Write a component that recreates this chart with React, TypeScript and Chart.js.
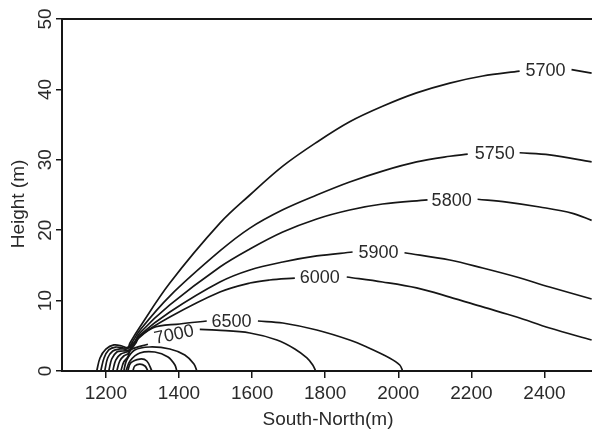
import React, { useEffect, useRef } from "react";
import { Chart, registerables } from "chart.js";

Chart.register(...registerables);

const FONT = "'Liberation Sans', Arial, Helvetica, sans-serif";
const LINE = "#161616";
const TEXT = "#2a2a2a";

// Axes
const xRange = [1080, 2530];
const yRange = [0, 50];
const xTicks = [1200, 1400, 1600, 1800, 2000, 2200, 2400];
const yTicks = [0, 10, 20, 30, 40, 50];
const xTitle = "South-North(m)";
const yTitle = "Height (m)";

// Contour lines (null = gap where the label sits)
const c5700x = [1175, 1184, 1200, 1222, 1244, 1260, 1266, 1293, 1375, 1512, 1594, 1684, 1777, 1867, 1957, 2050, 2141, 2231, 2332, 2403, 2474, 2529];
const c5700y = [0, 1.85, 3.1, 3.7, 3.55, 3.27, 3.98, 6.25, 12.5, 21.0, 25.0, 29.1, 32.5, 35.4, 37.6, 39.5, 40.9, 41.9, 42.6, null, 42.8, 42.3];

const c5750x = [1186, 1195, 1208, 1227, 1249, 1263, 1271, 1293, 1375, 1512, 1594, 1684, 1777, 1867, 1957, 2050, 2141, 2190, 2264, 2332, 2414, 2529];
const c5750y = [0, 1.85, 3.0, 3.4, 3.27, 3.4, 3.98, 5.8, 10.65, 17.05, 20.3, 22.9, 25.0, 26.85, 28.4, 29.7, 30.5, 30.8, null, 31.0, 30.7, 29.7];

const c5800x = [1197, 1205, 1219, 1238, 1257, 1268, 1277, 1293, 1375, 1512, 1594, 1684, 1777, 1867, 1957, 2080, 2146, 2217, 2297, 2387, 2477, 2529];
const c5800y = [0, 1.85, 2.84, 3.13, 3.13, 3.55, 3.98, 5.4, 9.38, 14.77, 17.33, 19.74, 21.6, 22.87, 23.72, 24.3, null, 24.4, 24.0, 23.3, 22.4, 21.4];

const c5900x = [1208, 1216, 1230, 1246, 1263, 1279, 1293, 1375, 1512, 1594, 1684, 1777, 1875, 1946, 2017, 2141, 2231, 2324, 2414, 2529];
const c5900y = [0, 1.7, 2.7, 2.84, 2.98, 3.98, 5.11, 8.38, 12.64, 14.35, 15.48, 16.34, 16.9, null, 16.8, 15.77, 14.63, 13.35, 11.93, 10.23];

const c6000x = [1219, 1227, 1241, 1257, 1268, 1282, 1293, 1375, 1512, 1594, 1648, 1717, 1785, 1859, 1957, 2050, 2141, 2231, 2324, 2414, 2529];
const c6000y = [0, 1.56, 2.41, 2.7, 3.0, 3.98, 4.97, 7.67, 11.22, 12.5, 12.93, 13.2, null, 13.35, 12.64, 11.8, 10.5, 9.1, 7.67, 6.1, 4.4];

const c6500x = [1230, 1238, 1249, 1263, 1271, 1328, 1402, 1476, 1544, 1616, 1684, 1777, 1867, 1914, 1976, 2004, 2012];
const c6500y = [0, 1.42, 2.13, 2.56, 3.69, 6.11, 6.68, 7.1, null, 7.1, 6.82, 5.82, 4.4, 3.4, 1.85, 0.85, 0];

const c7000x = [1241, 1249, 1260, 1268, 1315, 1386, 1457, 1503, 1594, 1668, 1717, 1750, 1766, 1774];
const c7000y = [0, 1.28, 2.0, 3.0, 3.8, null, 5.9, 5.8, 5.4, 4.4, 3.13, 1.85, 0.85, 0];

// Unlabelled inner arcs (higher levels)
const arcAx = [1249, 1257, 1279, 1320, 1375, 1416, 1441, 1449];
const arcAy = [0, 1.56, 2.98, 3.41, 3.13, 2.27, 1.0, 0];
const arcBx = [1255, 1266, 1293, 1334, 1370, 1389, 1394];
const arcBy = [0, 1.42, 2.56, 2.7, 1.99, 0.85, 0];
const arcDx = [1260, 1268, 1293, 1312, 1326];
const arcDy = [0, 1.14, 1.7, 1.42, 0];
const arcCx = [1274, 1279, 1293, 1307, 1315];
const arcCy = [0, 0.71, 0.99, 0.71, 0];

// Contour labels
const labelText = ["5700", "5750", "5800", "5900", "6000", "6500", "7000"];
const labelX = [2403, 2264, 2146, 1946, 1785, 1544, 1386];
const labelY = [42.8, 31.0, 24.35, 16.85, 13.3, 7.1, 5.25];
const labelAngle = [0, 0, 0, 0, 0, 0, -12];

const series: [number[], (number | null)[]][] = [
  [c5700x, c5700y],
  [c5750x, c5750y],
  [c5800x, c5800y],
  [c5900x, c5900y],
  [c6000x, c6000y],
  [c6500x, c6500y],
  [c7000x, c7000y],
  [arcAx, arcAy],
  [arcBx, arcBy],
  [arcDx, arcDy],
  [arcCx, arcCy],
];

const decorPlugin = {
  id: "decor",
  afterDraw(chart: any) {
    const { ctx, chartArea, scales } = chart;
    const xs = scales.x;
    const ys = scales.y;
    ctx.save();
    // top border
    ctx.strokeStyle = LINE;
    ctx.lineWidth = 2;
    ctx.beginPath();
    ctx.moveTo(chartArea.left - 1, chartArea.top);
    ctx.lineTo(chartArea.right, chartArea.top);
    ctx.stroke();

    // contour labels
    ctx.fillStyle = TEXT;
    ctx.font = `18px ${FONT}`;
    ctx.textAlign = "center";
    ctx.textBaseline = "middle";
    labelText.forEach((t, i) => {
      const px = xs.getPixelForValue(labelX[i]);
      const py = ys.getPixelForValue(labelY[i]);
      ctx.save();
      ctx.translate(px, py);
      ctx.rotate((labelAngle[i] * Math.PI) / 180);
      ctx.fillText(t, 0, 1);
      ctx.restore();
    });

    // y tick labels (rotated)
    ctx.font = `19px ${FONT}`;
    yTicks.forEach((v) => {
      const py = ys.getPixelForValue(v);
      ctx.save();
      ctx.translate(chartArea.left - 16, py);
      ctx.rotate(-Math.PI / 2);
      ctx.fillText(String(v), 0, 0);
      ctx.restore();
    });

    // axis titles
    ctx.font = `19px ${FONT}`;
    ctx.textBaseline = "alphabetic";
    ctx.fillText(xTitle, (chartArea.left + chartArea.right) / 2 + 1, 425);
    ctx.save();
    ctx.translate(24, (chartArea.top + chartArea.bottom) / 2 + 9);
    ctx.rotate(-Math.PI / 2);
    ctx.fillText(yTitle, 0, 0);
    ctx.restore();
    ctx.restore();
  },
};

export default function App() {
  const ref = useRef<HTMLCanvasElement | null>(null);
  useEffect(() => {
    if (!ref.current) return;
    const chart = new Chart(ref.current, {
      type: "scatter",
      data: {
        datasets: series.map(([xs, ys]) => ({
          data: xs.map((x, i) => ({ x, y: ys[i] as any })),
          showLine: true,
          borderColor: LINE,
          borderWidth: 1.7,
          pointRadius: 0,
          pointHoverRadius: 0,
          tension: 0.35,
          spanGaps: false,
          fill: false,
        })),
      },
      options: {
        animation: false,
        responsive: false,
        devicePixelRatio: 1,
        layout: { padding: { top: 19, right: 0, left: 0, bottom: 0 } },
        plugins: { legend: { display: false }, tooltip: { enabled: false }, title: { display: false } },
        events: [],
        scales: {
          x: {
            type: "linear",
            min: xRange[0],
            max: xRange[1],
            afterBuildTicks: (s: any) => {
              s.ticks = xTicks.map((v) => ({ value: v }));
            },
            afterFit: (s: any) => {
              s.height = 61;
            },
            grid: { display: true, drawOnChartArea: false, drawTicks: true, tickLength: 7, color: LINE, lineWidth: 1.5 },
            border: { display: true, color: LINE, width: 2 },
            ticks: {
              font: { family: FONT, size: 19 },
              color: TEXT,
              padding: 4,
              maxRotation: 0,
              minRotation: 0,
              autoSkip: false,
              callback: (v: any) => String(v),
            },
          },
          y: {
            type: "linear",
            min: yRange[0],
            max: yRange[1],
            afterBuildTicks: (s: any) => {
              s.ticks = yTicks.map((v) => ({ value: v }));
            },
            afterFit: (s: any) => {
              s.width = 62;
            },
            grid: { display: true, drawOnChartArea: false, drawTicks: true, tickLength: 6, color: LINE, lineWidth: 1.5 },
            border: { display: true, color: LINE, width: 2 },
            ticks: { display: false },
          },
        },
      },
      plugins: [decorPlugin],
    });
    return () => chart.destroy();
  }, []);
  return (
    <div style={{ position: "absolute", left: 0, top: 0, width: 592, height: 432, background: "#fff" }}>
      <canvas ref={ref} width={592} height={432} style={{ display: "block" }} />
    </div>
  );
}
